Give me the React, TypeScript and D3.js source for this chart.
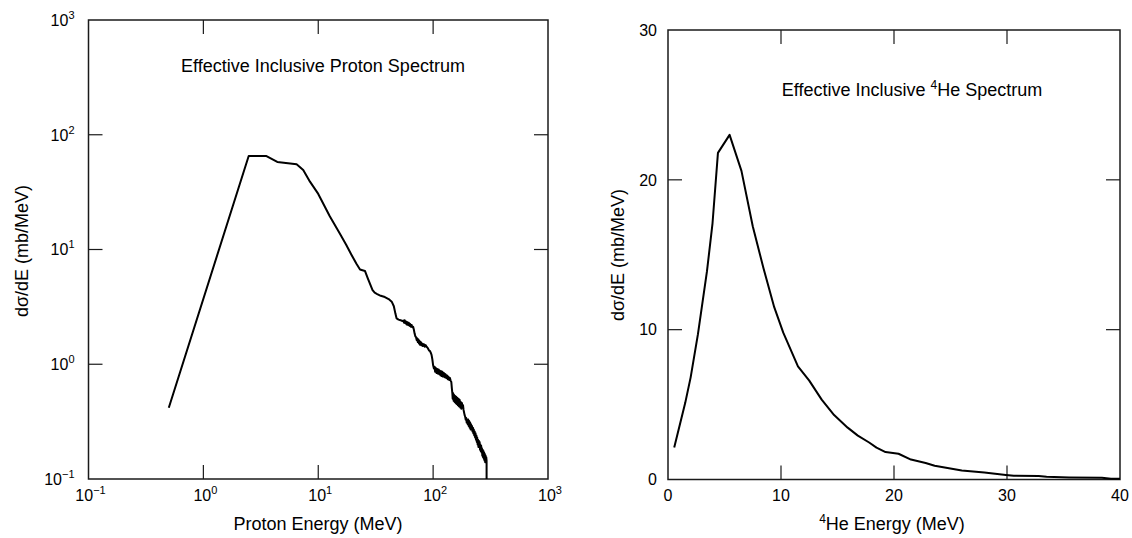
import React from "react";
import * as d3 from "d3";

// ---- Proton spectrum (log-log) ----
const protonE: number[] = [
  0.5, 2.48, 3.51, 4.4, 6.48, 7.4, 8.47, 10, 12.6, 15.4, 17.5, 19.5, 21.5, 23.1, 25.5, 27, 29.7, 31, 32.6, 35, 38, 41, 43.6, 45.5, 47, 48.1, 50, 52, 54,
  55, 55.8, 56.5, 57.3, 58, 58.8, 59.6, 60.5, 61.3, 62.2, 63, 64, 65, 66, 67, 68, 69, 70, 71, 72, 72.8, 73.6, 74.4, 75.2, 76, 77, 78, 79, 80, 81.5, 83, 84.5, 86, 87.7,
  90, 92, 94, 96, 97, 98.5, 100, 101.6, 103, 104, 105.5, 107, 108.5, 110, 111.5, 113, 114.5, 116, 117.5, 119, 120.5, 122, 124, 126, 128, 130, 132, 134, 136, 138, 140, 142, 144,
  145.5, 147, 148, 149.5, 151, 152.5, 154, 155.5, 157, 158.5, 160, 162, 164, 166, 168, 170, 172, 174, 176, 178, 180, 182, 184,
  186, 188, 190, 192, 194, 196, 198, 200, 202, 204, 206, 208, 210, 212, 214, 216, 218, 220, 222, 224, 226, 228, 230, 232, 234, 236, 238, 240,
  242, 244, 246, 248, 250, 252, 254, 256, 258, 260, 262, 264, 266, 268, 270, 272, 274, 276, 278, 280, 282, 284, 286, 288, 290, 292, 292,
];
const protonXS: number[] = [
  0.418, 65.3, 65.3, 57.9, 55.2, 49.3, 39, 30.5, 19.5, 13.8, 11, 8.96, 7.5, 6.7, 6.5, 5.6, 4.43, 4.2, 4.09, 3.95, 3.85, 3.7, 3.51, 3.2, 2.75, 2.51, 2.45, 2.42, 2.38,
  2.4, 2.3, 2.42, 2.28, 2.36, 2.22, 2.33, 2.2, 2.3, 2.16, 2.25, 2.12, 2.2, 2.1, 2.12, 2.0, 1.85, 1.75, 1.72, 1.62, 1.68, 1.56, 1.64, 1.52, 1.6, 1.48, 1.56, 1.46, 1.52, 1.44, 1.5, 1.42, 1.47, 1.42,
  1.38, 1.32, 1.3, 1.24, 1.2, 1.1, 0.98, 0.92, 0.95, 0.86, 0.93, 0.84, 0.91, 0.83, 0.9, 0.82, 0.88, 0.8, 0.87, 0.79, 0.86, 0.78, 0.84, 0.77, 0.82, 0.76, 0.8, 0.74, 0.78, 0.73, 0.76, 0.72, 0.7,
  0.62, 0.56, 0.5, 0.56, 0.48, 0.54, 0.47, 0.53, 0.46, 0.52, 0.45, 0.51, 0.44, 0.5, 0.43, 0.49, 0.42, 0.47, 0.41, 0.46, 0.42, 0.44, 0.4,
  0.38, 0.36, 0.35, 0.33, 0.34, 0.31, 0.33, 0.3, 0.33, 0.29, 0.32, 0.28, 0.31, 0.27, 0.3, 0.27, 0.29, 0.26, 0.28, 0.25, 0.27, 0.24, 0.26, 0.23, 0.25, 0.22, 0.24, 0.21,
  0.23, 0.2, 0.22, 0.19, 0.215, 0.19, 0.21, 0.18, 0.2, 0.175, 0.195, 0.17, 0.185, 0.16, 0.18, 0.155, 0.175, 0.15, 0.17, 0.145, 0.165, 0.14, 0.16, 0.14, 0.155, 0.145, 0.1,
];
const logTickExps: string[] = ["\u22121", "0", "1", "2", "3"];
const logTickVals: number[] = [0.1, 1, 10, 100, 1000];

// ---- 4He spectrum (linear) ----
const heE: number[] = [
  0.55, 1.52, 2.0, 2.65, 3.45, 3.94, 4.42, 5.45, 6.5, 7.5, 8.45, 9.4, 10.2, 11.5, 12.5, 13.6, 14.7, 15.9, 16.8, 17.8, 18.45, 19.25, 20.4,
  21.5, 22.8, 23.6, 26.0, 28.0, 29.9, 30.6, 32.8, 33.5, 35.5, 38.4, 39.2, 40,
];
const heXS: number[] = [
  2.13, 5.1, 6.8, 9.7, 13.9, 17.1, 21.8, 23.0, 20.6, 16.9, 14.1, 11.5, 9.8, 7.55, 6.6, 5.33, 4.3, 3.46, 2.93, 2.47, 2.13, 1.83, 1.72,
  1.33, 1.1, 0.92, 0.6, 0.46, 0.3, 0.25, 0.23, 0.18, 0.14, 0.11, 0.05, 0.05,
];
const heTicks: number[] = [0, 10, 20, 30, 40];
const heYTicks: number[] = [0, 10, 20, 30];

const FONT = "'Liberation Sans', Arial, Helvetica, sans-serif";

export default function App() {
  const W = 1132, H = 538;
  const L = { x0: 88.5, x1: 548, y0: 20, y1: 479 };
  const R = { x0: 668, x1: 1120, y0: 30, y1: 479.5 };

  const xL = d3.scaleLog().domain([0.1, 1000]).range([L.x0, L.x1]);
  const yL = d3.scaleLog().domain([0.1, 1000]).range([L.y1, L.y0]);
  const xR = d3.scaleLinear().domain([0, 40]).range([R.x0, R.x1]);
  const yR = d3.scaleLinear().domain([0, 30]).range([R.y1, R.y0]);

  const lineL = d3.line<number>().x((_, i) => xL(protonE[i])).y((_, i) => yL(protonXS[i]));
  const lineR = d3.line<number>().x((_, i) => xR(heE[i])).y((_, i) => yR(heXS[i]));

  const tick = 14;
  const frameColor = "#1a1a1a";

  return (
    <svg width={W} height={H} style={{ position: "absolute", left: 0, top: 0, background: "#fff" }} fontFamily={FONT}>
      <rect x={0} y={0} width={W} height={H} fill="#fff" />
      <defs>
        <clipPath id="clipL">
          <rect x={L.x0} y={L.y0} width={L.x1 - L.x0} height={L.y1 - L.y0} />
        </clipPath>
      </defs>

      {/* ===== Left plot ===== */}
      <g>
        {logTickVals.slice(1, 4).map((v) => (
          <g key={"lt" + v} stroke={frameColor} strokeWidth={1.2}>
            <line x1={xL(v)} x2={xL(v)} y1={L.y1} y2={L.y1 - tick} />
            <line x1={xL(v)} x2={xL(v)} y1={L.y0} y2={L.y0 + tick} />
            <line x1={L.x0} x2={L.x0 + tick} y1={yL(v)} y2={yL(v)} />
            <line x1={L.x1} x2={L.x1 - tick} y1={yL(v)} y2={yL(v)} />
          </g>
        ))}
        <rect x={L.x0} y={L.y0} width={L.x1 - L.x0} height={L.y1 - L.y0} fill="none" stroke={frameColor} strokeWidth={1.5} />
        <path d={lineL(protonE) || ""} fill="none" stroke="#000" strokeWidth={2} strokeLinejoin="round" clipPath="url(#clipL)" />

        {logTickVals.map((v, i) => (
          <text key={"ly" + v} x={L.x0 - 14} y={yL(v) + 5.8} fontSize={16} textAnchor="end" fill="#000">
            10<tspan fontSize={11} dy={-7}>{logTickExps[i]}</tspan>
          </text>
        ))}
        {logTickVals.map((v, i) => (
          <text key={"lx" + v} x={xL(v) + 2} y={501} fontSize={16} textAnchor="middle" fill="#000">
            10<tspan fontSize={11} dy={-7}>{logTickExps[i]}</tspan>
          </text>
        ))}
        <text x={323} y={72} fontSize={18} textAnchor="middle" fill="#000">Effective Inclusive Proton Spectrum</text>
        <text x={318} y={530} fontSize={18} textAnchor="middle" fill="#000">Proton Energy (MeV)</text>
        <text transform={`translate(27.5,251) rotate(-90)`} fontSize={18} textAnchor="middle" fill="#000">dσ/dE (mb/MeV)</text>
      </g>

      {/* ===== Right plot ===== */}
      <g>
        {heTicks.slice(1, 4).map((v) => (
          <g key={"rt" + v} stroke={frameColor} strokeWidth={1.2}>
            <line x1={xR(v)} x2={xR(v)} y1={R.y1} y2={R.y1 - tick} />
            <line x1={xR(v)} x2={xR(v)} y1={R.y0} y2={R.y0 + tick} />
          </g>
        ))}
        {heYTicks.slice(1, 3).map((v) => (
          <g key={"ry" + v} stroke={frameColor} strokeWidth={1.2}>
            <line x1={R.x0} x2={R.x0 + tick} y1={yR(v)} y2={yR(v)} />
            <line x1={R.x1} x2={R.x1 - tick} y1={yR(v)} y2={yR(v)} />
          </g>
        ))}
        <rect x={R.x0} y={R.y0} width={R.x1 - R.x0} height={R.y1 - R.y0} fill="none" stroke={frameColor} strokeWidth={1.5} />
        <path d={lineR(heE) || ""} fill="none" stroke="#000" strokeWidth={2} strokeLinejoin="round" />

        {heYTicks.map((v) => (
          <text key={"hy" + v} x={R.x0 - 11} y={yR(v) + 5.8} fontSize={16} textAnchor="end" fill="#000">{v}</text>
        ))}
        {heTicks.map((v) => (
          <text key={"hx" + v} x={xR(v)} y={501} fontSize={16} textAnchor="middle" fill="#000">{v}</text>
        ))}
        <text x={912} y={96} fontSize={18} textAnchor="middle" fill="#000">
          Effective Inclusive <tspan fontSize={12} dy={-7}>4</tspan><tspan dy={7}>He Spectrum</tspan>
        </text>
        <text x={892} y={530} fontSize={18} textAnchor="middle" fill="#000">
          <tspan fontSize={12} dy={-7}>4</tspan><tspan dy={7}>He Energy (MeV)</tspan>
        </text>
        <text transform={`translate(624,255) rotate(-90)`} fontSize={18} textAnchor="middle" fill="#000">dσ/dE (mb/MeV)</text>
      </g>
    </svg>
  );
}
